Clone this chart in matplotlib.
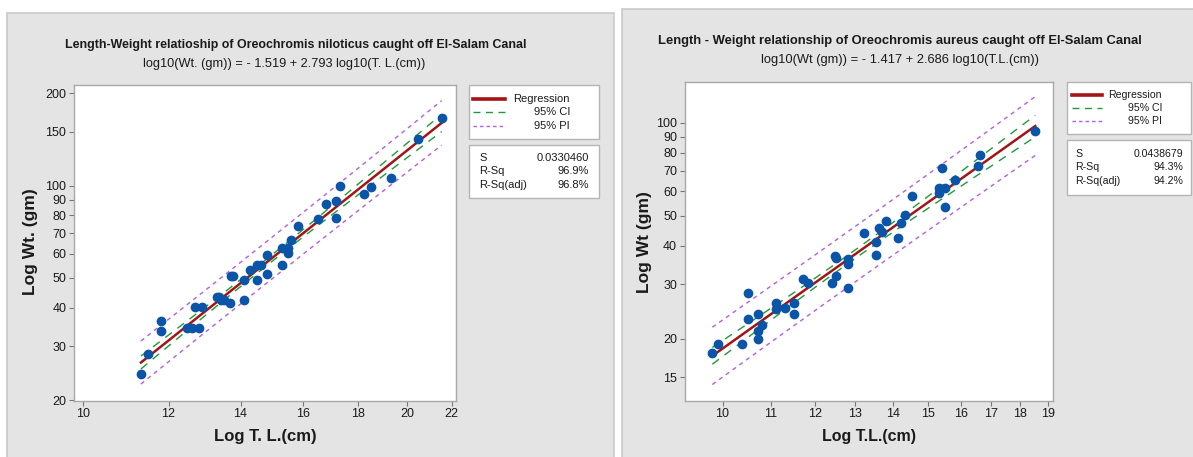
import matplotlib
matplotlib.use("Agg")
import matplotlib.pyplot as plt
import numpy as np
from matplotlib.patches import Rectangle
from matplotlib.lines import Line2D
from matplotlib.ticker import FixedLocator, FixedFormatter, NullLocator

plt.rcParams['font.family'] = ['Liberation Sans Narrow', 'Liberation Sans', 'DejaVu Sans']

W, H = 1193, 457

# ---- data: O. niloticus (left) ----
nil_len = [11.31, 11.49, 11.81, 11.81, 12.48, 12.61, 12.81, 12.69, 12.89, 13.30,
           13.38, 13.43, 13.51, 13.70, 13.71, 13.77, 14.10, 14.10, 14.30, 14.49,
           14.49, 14.63, 14.83, 14.83, 15.30, 15.30, 15.50, 15.51, 15.61, 15.82,
           16.51, 16.81, 17.19, 17.19, 17.33, 18.23, 18.52, 19.33, 20.49, 21.54]
nil_wt = [24.4, 28.3, 36.1, 33.5, 34.3, 34.3, 34.3, 40.1, 40.1, 43.4,
          43.4, 42.5, 42.5, 41.4, 50.6, 50.6, 49.3, 42.4, 53.2, 55.1,
          49.3, 55.1, 59.3, 51.5, 62.6, 55.2, 62.6, 60.3, 66.3, 73.9,
          77.8, 87.3, 88.8, 78.6, 99.6, 93.6, 98.9, 106.0, 141.7, 166.3]
nil_coef = (-1.519, 2.793)
nil_stats = ["0.0330460", "96.9%", "96.8%"]
nil_s = 0.0330460
nil_t = 2.024
nil_xticks = [10, 12, 14, 16, 18, 20, 22]
nil_yticks = [20, 30, 40, 50, 60, 70, 80, 90, 100, 150, 200]

# ---- data: O. aureus (right) ----
aur_len = [9.80, 9.92, 10.40, 10.51, 10.51, 10.72, 10.72, 10.72, 10.80, 11.12,
           11.12, 11.32, 11.52, 11.52, 11.71, 11.83, 12.40, 12.49, 12.50, 12.50,
           12.81, 12.82, 12.81, 13.22, 13.53, 13.53, 13.63, 13.71, 13.82, 14.13,
           14.21, 14.33, 14.54, 15.32, 15.32, 15.43, 15.52, 15.52, 15.83, 16.55,
           16.64, 18.54]
aur_wt = [18.0, 19.2, 19.2, 28.2, 23.2, 24.1, 21.2, 20.0, 22.1, 26.1,
          24.9, 25.1, 26.1, 24.1, 31.2, 30.2, 30.2, 37.1, 36.4, 32.0,
          36.3, 35.0, 29.1, 44.1, 41.0, 37.2, 45.5, 44.2, 48.2, 42.2,
          47.2, 50.4, 58.0, 61.3, 59.1, 71.1, 61.3, 53.2, 65.1, 72.4,
          78.4, 93.7]
aur_coef = (-1.417, 2.686)
aur_stats = ["0.0438679", "94.3%", "94.2%"]
aur_s = 0.0438679
aur_t = 2.021
aur_xticks = [10, 11, 12, 13, 14, 15, 16, 17, 18, 19]
aur_yticks = [15, 20, 30, 40, 50, 60, 70, 80, 90, 100]

C_PT = '#0a55a8'
C_REG = '#a31515'
C_CI = '#1f9a3a'
C_PI = '#b45de0'
C_TXT = '#1a1a1a'


def fx(px):
    return px / W


def fy(py):
    return 1 - py / H


fig = plt.figure(figsize=(W / 100, H / 100), dpi=100)
fig.patch.set_facecolor('white')

# gray panels
for x0, y0, x1 in [(7, 13, 614), (622, 9, 1196)]:
    fig.patches.append(Rectangle((fx(x0), fy(460)), fx(x1) - fx(x0), fy(y0) - fy(460),
                                 transform=fig.transFigure, facecolor='#e4e4e4',
                                 edgecolor='#c9c9c9', lw=1.2, zorder=-5))


def box(x0, y0, x1, y1):
    fig.patches.append(Rectangle((fx(x0), fy(y1)), fx(x1) - fx(x0), fy(y0) - fy(y1),
                                 transform=fig.transFigure, facecolor='white',
                                 edgecolor='#b5b5b5', lw=1.0, zorder=1))


def panel(rect, L, Wt, coef, s, t, xticks, yticks, xlim, ylim):
    ax = fig.add_axes(rect)
    ax.set_zorder(2)
    lx = np.log10(L)
    b0, b1 = coef
    xs = np.linspace(lx.min(), lx.max(), 200)
    fit = b0 + b1 * xs
    sxx = np.sum((lx - lx.mean()) ** 2)
    n = len(lx)
    se_ci = s * np.sqrt(1 / n + (xs - lx.mean()) ** 2 / sxx)
    se_pi = s * np.sqrt(1 + 1 / n + (xs - lx.mean()) ** 2 / sxx)
    X = 10 ** xs
    ax.plot(X, 10 ** (fit + t * se_pi), color=C_PI, lw=1.0, dashes=(3, 3))
    ax.plot(X, 10 ** (fit - t * se_pi), color=C_PI, lw=1.0, dashes=(3, 3))
    ax.plot(X, 10 ** (fit + t * se_ci), color=C_CI, lw=1.0, dashes=(6, 5))
    ax.plot(X, 10 ** (fit - t * se_ci), color=C_CI, lw=1.0, dashes=(6, 5))
    ax.plot(X, 10 ** fit, color=C_REG, lw=1.8)
    ax.plot(L, Wt, 'o', color=C_PT, ms=6, mec=C_PT, zorder=5)
    ax.set_xscale('log')
    ax.set_yscale('log')
    ax.set_xlim(*xlim)
    ax.set_ylim(*ylim)
    ax.xaxis.set_major_locator(FixedLocator(xticks))
    ax.xaxis.set_major_formatter(FixedFormatter([str(v) for v in xticks]))
    ax.yaxis.set_major_locator(FixedLocator(yticks))
    ax.yaxis.set_major_formatter(FixedFormatter([str(v) for v in yticks]))
    ax.xaxis.set_minor_locator(NullLocator())
    ax.yaxis.set_minor_locator(NullLocator())
    ax.tick_params(direction='out', length=3.5, width=0.8, color='#777777',
                   labelsize=9, labelcolor=C_TXT, pad=2)
    for sp in ax.spines.values():
        sp.set_color('#a8a8a8')
        sp.set_linewidth(1.0)
    return ax


# left axes: x 74-456, y 84.7-400.7
ax1 = panel([fx(74), fy(400.7), fx(456) - fx(74), fy(84.7) - fy(400.7)],
            np.array(nil_len), np.array(nil_wt), nil_coef, nil_s, nil_t,
            nil_xticks, nil_yticks, (9.80, 22.21), (19.9, 213.4))
# right axes: x 684.7-1052.7, y 81.7-400.7
ax2 = panel([fx(684.7), fy(400.7), fx(1052.7) - fx(684.7), fy(81.7) - fy(400.7)],
            np.array(aur_len), np.array(aur_wt), aur_coef, aur_s, aur_t,
            aur_xticks, aur_yticks, (9.28, 19.19), (12.6, 135.7))

# titles
fig.text(fx(296), fy(45), "Length-Weight relatioship of Oreochromis niloticus caught off El-Salam Canal",
         ha='center', va='center', fontsize=8.9, fontweight='bold', color=C_TXT)
fig.text(fx(284), fy(64), "log10(Wt. (gm)) = - 1.519 + 2.793 log10(T. L.(cm))",
         ha='center', va='center', fontsize=9.15, color=C_TXT)
fig.text(fx(900), fy(41), "Length - Weight relationship of Oreochromis aureus caught off El-Salam Canal",
         ha='center', va='center', fontsize=9.35, fontweight='bold', color=C_TXT)
fig.text(fx(900), fy(60), "log10(Wt (gm)) = - 1.417 + 2.686 log10(T.L.(cm))",
         ha='center', va='center', fontsize=9.3, color=C_TXT)

# axis labels
fig.text(fx(265), fy(436), "Log T. L.(cm)", ha='center', va='center', fontsize=12,
         fontweight='bold', color=C_TXT)
fig.text(fx(869), fy(436), "Log T.L.(cm)", ha='center', va='center', fontsize=11.5,
         fontweight='bold', color=C_TXT)
fig.text(fx(31), fy(242), "Log Wt. (gm)", ha='center', va='center', fontsize=12.5,
         fontweight='bold', rotation=90, color=C_TXT)
fig.text(fx(645), fy(242), "Log Wt (gm)", ha='center', va='center', fontsize=12.5,
         fontweight='bold', rotation=90, color=C_TXT)


def legend_block(x0, x1, ly0, ly1, sy0, sy1, line_x0, line_x1, txt_r, stat_l, stat_r, stats, fs):
    box(x0, ly0, x1, ly1)
    box(x0, sy0, x1, sy1)
    rows = np.linspace(ly0, ly1, 5)[1:4]
    specs = [("Regression", C_REG, 2.6, None), ("95% CI", C_CI, 1.0, (5, 4)),
             ("95% PI", C_PI, 1.0, (2.5, 2.2))]
    for (lab, col, lw, dsh), ry in zip(specs, rows):
        ln = Line2D([fx(line_x0), fx(line_x1)], [fy(ry), fy(ry)], transform=fig.transFigure,
                    color=col, lw=lw, zorder=3)
        if dsh:
            ln.set_dashes(dsh)
        fig.lines.append(ln)
        fig.text(fx(txt_r), fy(ry), lab, ha='right', va='center', fontsize=fs, color=C_TXT,
                 zorder=4)
    srows = np.linspace(sy0, sy1, 5)[1:4]
    for lab, val, ry in zip(["S", "R-Sq", "R-Sq(adj)"], stats, srows):
        fig.text(fx(stat_l), fy(ry), lab, ha='left', va='center', fontsize=fs, color=C_TXT,
                 zorder=4)
        fig.text(fx(stat_r), fy(ry), val, ha='right', va='center', fontsize=fs, color=C_TXT,
                 zorder=4)


legend_block(469, 599, 85, 139, 145, 198, 473, 505, 570, 479, 589, nil_stats, 8)
legend_block(1067, 1191, 82, 134, 140, 195, 1072, 1102, 1162, 1075, 1183, aur_stats, 7.6)

fig.savefig('out.png', dpi=100)
